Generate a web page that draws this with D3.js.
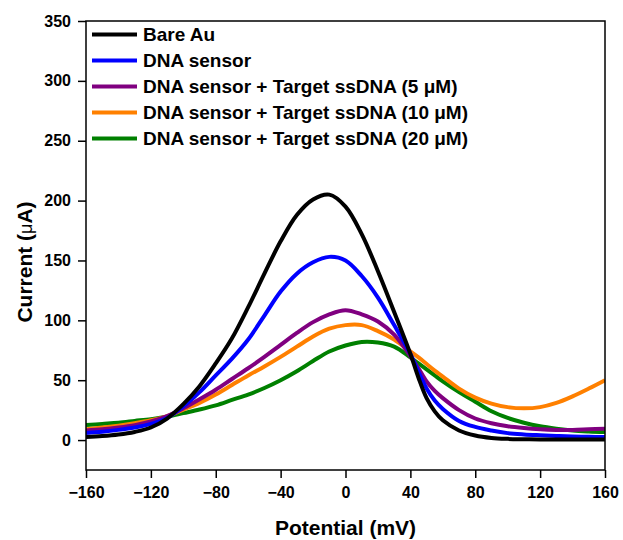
<!DOCTYPE html>
<html>
<head>
<meta charset="utf-8">
<script src="https://cdn.jsdelivr.net/npm/d3@7"></script>
<style>
  body { margin: 0; background: #fff; }
  svg { font-family: Arial, "Liberation Sans", sans-serif; }
</style>
</head>
<body>
<svg id="chart" width="623" height="540"></svg>
<script>
// potential (mV) sampled along the x axis
const potential = [-160,-150,-140,-130,-120,-110,-100,-90,-80,-70,-60,-50,-40,-30,-20,-10,0,10,20,30,40,45,50,55,60,70,80,90,100,110,120,130,140,150,160];

// current (uA) for each trace
const bareAu = [2.5,3.3,4.6,6.8,10.5,18,30,45,64,85,111,139,166,188,201,205,195,172,141,107,72,52,35,24,16.5,8,3.8,1.8,1,0.7,0.5,0.5,0.5,0.5,0.5];
const dnaSensor = [6,7,8.5,10.5,13.5,18.5,28,40,54,68,84,104,124,139,148.5,153,150,137,119,96,72,57,43,33,26,16,11,8,5.8,4.7,4,3.4,3,2.7,2.5];
const target5 = [8,9,10.5,12.5,15.5,20,26.5,34,42,51,60,69.5,79.5,89.5,98.5,105,108.5,105,99,88,70,60,49,41,35,25,18,14,11.5,10,9,8.5,8.5,9,9.5];
const target10 = [9,10.5,12,14,16.5,20,25.5,31,38,46,54,61.5,69.5,78,86.5,93,96,96,91,84,74,69,63.5,58,53,43,35.5,30.5,27.5,26.5,27.5,31,36.5,43,50];
const target20 = [12.5,13.5,14.5,16,17.5,19.5,22.5,25.5,29,33.5,38,43.5,50,57.5,66,74,79,82,81.5,78,69,64,59,54,49,40,32,24,18.5,14.5,11.5,9.5,8,7.2,6.7];

const seriesNames = ['Bare Au', 'DNA sensor', 'DNA sensor + Target ssDNA (5 \u03bcM)', 'DNA sensor + Target ssDNA (10 \u03bcM)', 'DNA sensor + Target ssDNA (20 \u03bcM)'];
const seriesValues = [bareAu, dnaSensor, target5, target10, target20];
const seriesColors = ['#000000', '#0000ff', '#800080', '#ff8000', '#008000'];

const xTicks = [-160,-120,-80,-40,0,40,80,120,160];
const yTicks = [0,50,100,150,200,250,300,350];

let svg = d3.select('#chart');

let margin = { left: 86, right: 18, top: 21, bottom: 70 };
let width = 623, height = 540;

let x = d3.scaleLinear()
  .domain([-160, 160])
  .range([margin.left, width - margin.right]);

let y = d3.scaleLinear()
  .domain([-25, 350])
  .range([height - margin.bottom, margin.top]);

svg.append('defs').append('clipPath').attr('id', 'plot-clip')
  .append('rect')
  .attr('x', x(-160)).attr('y', y(350))
  .attr('width', x(160) - x(-160)).attr('height', y(-25) - y(350));

let line = d3.line()
  .x(d => x(d[0]))
  .y(d => y(d[1]))
  .curve(d3.curveCatmullRom.alpha(0.5));

let lines = svg.append('g').attr('clip-path', 'url(#plot-clip)');

// draw back to front so black sits on top like the original
[4, 3, 2, 1, 0].forEach(i => {
  lines.append('path')
    .datum(potential.map((p, j) => [p, seriesValues[i][j]]))
    .attr('fill', 'none')
    .attr('stroke', seriesColors[i])
    .attr('stroke-width', 4)
    .attr('stroke-linejoin', 'round')
    .attr('d', line);
});

// frame
svg.append('rect')
  .attr('x', x(-160)).attr('y', y(350))
  .attr('width', x(160) - x(-160)).attr('height', y(-25) - y(350))
  .attr('fill', 'none').attr('stroke', '#000').attr('stroke-width', 1.5);

let xAxis = d3.axisBottom(x).tickValues(xTicks).tickSize(8).tickPadding(9).tickSizeOuter(0);
let yAxis = d3.axisLeft(y).tickValues(yTicks).tickSize(8).tickPadding(7).tickSizeOuter(0);

let gx = svg.append('g')
  .attr('transform', `translate(0,${y(-25)})`)
  .call(xAxis);
let gy = svg.append('g')
  .attr('transform', `translate(${x(-160)},0)`)
  .call(yAxis);

[gx, gy].forEach(g => {
  g.select('.domain').remove();
  g.selectAll('line').attr('stroke', '#000').attr('stroke-width', 1.5);
  g.selectAll('text')
    .attr('fill', '#000')
    .style('font-family', 'Arial, "Liberation Sans", sans-serif')
    .style('font-size', '16px')
    .style('font-weight', 'bold');
});

// axis titles
svg.append('text')
  .attr('x', (x(-160) + x(160)) / 2)
  .attr('y', 535)
  .attr('text-anchor', 'middle')
  .style('font-size', '21px').style('font-weight', 'bold')
  .text('Potential (mV)');

let yTitle = svg.append('text')
  .attr('transform', `translate(32,${262}) rotate(-90)`)
  .attr('text-anchor', 'middle')
  .style('font-size', '21px').style('font-weight', 'bold');
yTitle.append('tspan').text('Current (');
yTitle.append('tspan').style('font-weight', 'normal').style('font-size', '18px').text('\u03bc');
yTitle.append('tspan').text('A)');

// legend
let legend = svg.append('g');
seriesNames.forEach((name, i) => {
  let ly = 34.5 + i * 26;
  legend.append('line')
    .attr('x1', 92).attr('x2', 137)
    .attr('y1', ly).attr('y2', ly)
    .attr('stroke', seriesColors[i]).attr('stroke-width', 4);
  legend.append('text')
    .attr('x', 143).attr('y', ly + 6.5)
    .style('font-size', '19px').style('font-weight', 'bold')
    .text(name);
});
</script>
</body>
</html>
